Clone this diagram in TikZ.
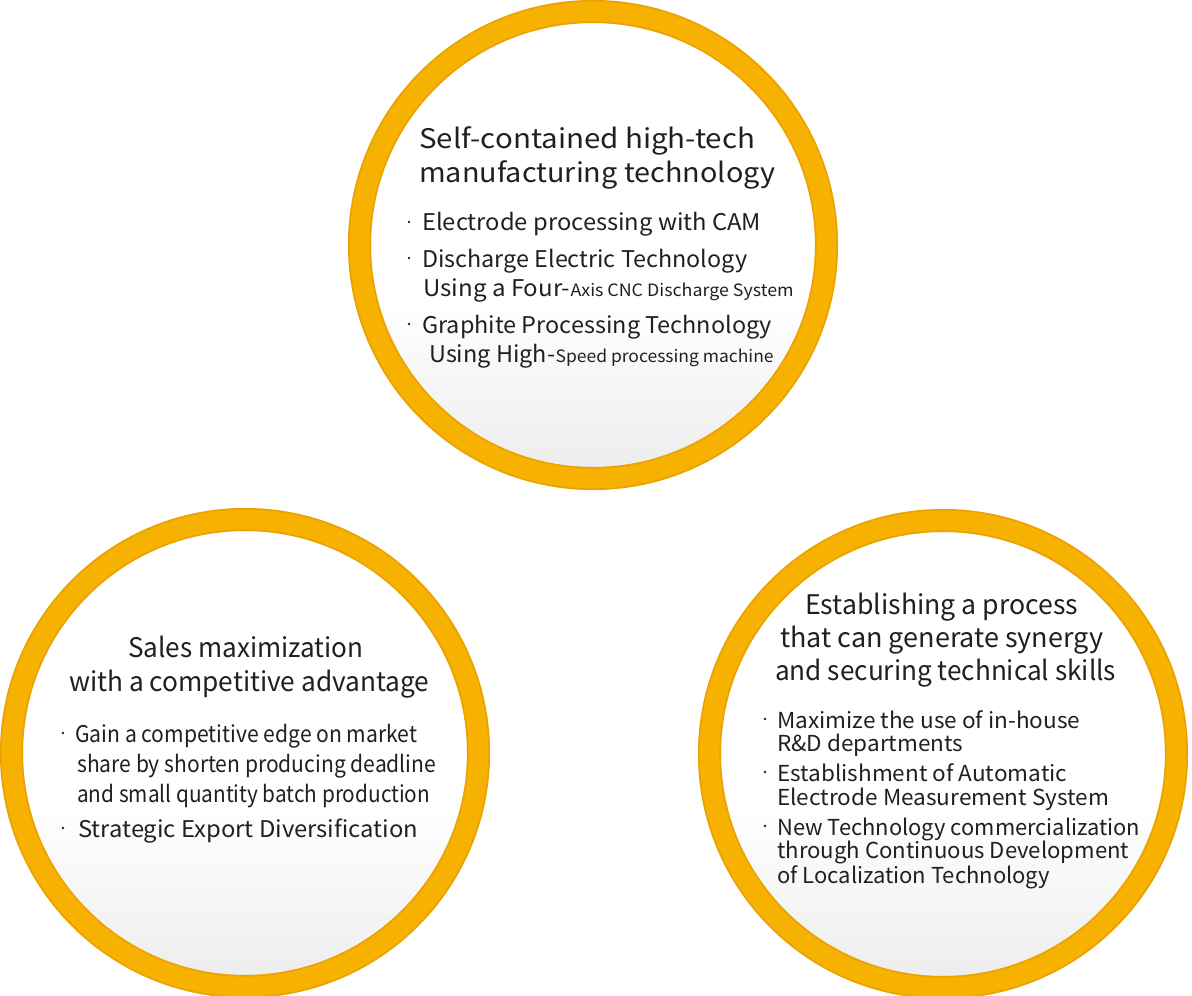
\documentclass[tikz,border=0pt]{standalone}
\usepackage{fontspec}
\setmainfont{Noto Sans CJK KR}
\usepackage{graphicx}
\definecolor{ringc}{HTML}{F7B100}
\definecolor{ringdark}{HTML}{DC9400}
\definecolor{txt}{HTML}{231F20}
\definecolor{innerbot}{HTML}{ECECEC}
\pgfdeclareverticalshading{innershade}{100bp}{color(0bp)=(innerbot); color(25bp)=(innerbot); color(44bp)=(white); color(100bp)=(white)}
\newcommand{\fw}[2]{\resizebox{#1pt}{\height}{#2}}
\tikzset{
  ringnode/.style={circle, minimum size=467pt, inner sep=0pt, line width=23pt, draw=ringc,
    shade, shading=innershade},
  edge/.style={draw=ringdark, line width=1.6pt, opacity=0.5},
  ttl/.style={anchor=base west, inner sep=0pt, text=txt, font=\fontsize{27}{30}\selectfont},
  itm/.style={anchor=base west, inner sep=0pt, text=txt, font=\fontsize{23}{26}\selectfont},
  itmb/.style={anchor=base west, inner sep=0pt, text=txt, font=\fontsize{22}{25}\selectfont},
  dotb/.style={circle, fill=txt, inner sep=0pt, minimum size=2.6pt}
}
\begin{document}
\begin{tikzpicture}[x=1pt,y=-1pt]
\useasboundingbox (0,0) rectangle (1192,996);
% circles
\node[ringnode] (c1) at (593,245) {};
\node[ringnode] (c2) at (245,753) {};
\node[ringnode] (c3) at (943,754) {};
\foreach \c in {c1,c2,c3}{
  \draw[edge] (\c.center) circle[radius=222.8];
  \draw[edge] (\c.center) circle[radius=244.2];
}
% top circle text
\node[ttl] (a1) at (419,148) {\fw{336}{Self-contained high-tech}};
\node[ttl] (a2) at (419,182) {\fw{356}{manufacturing technology}};
\node[dotb] (ad1) at (409,222) {};
\node[itm] (a3) at (422,230) {\fw{339}{Electrode processing with CAM}};
\node[dotb] (ad2) at (409,258) {};
\node[itm] (a4) at (422,267) {\fw{325}{Discharge Electric Technology}};
\node[itm] (a5) at (423,296) {\fw{147}{Using a Four-}};
\node[itm, font=\fontsize{17}{20}\selectfont] (a6) at (a5.base east) {\fw{223}{Axis CNC Discharge System}};
\node[dotb] (ad3) at (409,324) {};
\node[itm] (a7) at (422,333) {\fw{350}{Graphite Processing Technology}};
\node[itm] (a8) at (429,362) {\fw{126}{Using High-}};
\node[itm, font=\fontsize{17}{20}\selectfont] (a9) at (a8.base east) {\fw{218}{Speed processing machine}};
% bottom-left text
\node[ttl] (b1) at (128,657) {\fw{235}{Sales maximization}};
\node[ttl] (b2) at (69,691) {\fw{360}{with a competitive advantage}};
\node[dotb] (bd1) at (63,733) {};
\node[itm] (b3) at (75,742) {\fw{342}{Gain a competitive edge on market}};
\node[itm] (b4) at (77,772) {\fw{359}{share by shorten producing deadline}};
\node[itm] (b5) at (77,802) {\fw{353}{and small quantity batch production}};
\node[dotb] (bd2) at (63,828) {};
\node[itm] (b6) at (78,837) {\fw{340}{Strategic Export Diversification}};
% bottom-right text
\node[ttl] (r1) at (805,614) {\fw{273}{Establishing a process}};
\node[ttl] (r2) at (780,647) {\fw{323}{that can generate synergy}};
\node[ttl] (r3) at (775,680) {\fw{341}{and securing technical skills}};
\node[dotb] (rd1) at (765,719) {};
\node[itmb] (r4) at (777,728) {\fw{303}{Maximize the use of in-house}};
\node[itmb] (r5) at (777,751) {\fw{186}{R\&D departments}};
\node[dotb] (rd2) at (765,772) {};
\node[itmb] (r6) at (777,781) {\fw{290}{Establishment of Automatic}};
\node[itmb] (r7) at (777,805) {\fw{332}{Electrode Measurement System}};
\node[dotb] (rd3) at (765,826) {};
\node[itmb] (r8) at (777,835) {\fw{363}{New Technology commercialization}};
\node[itmb] (r9) at (777,858) {\fw{352}{through Continuous Development}};
\node[itmb] (r10) at (777,883) {\fw{273}{of Localization Technology}};
\end{tikzpicture}
\end{document}
